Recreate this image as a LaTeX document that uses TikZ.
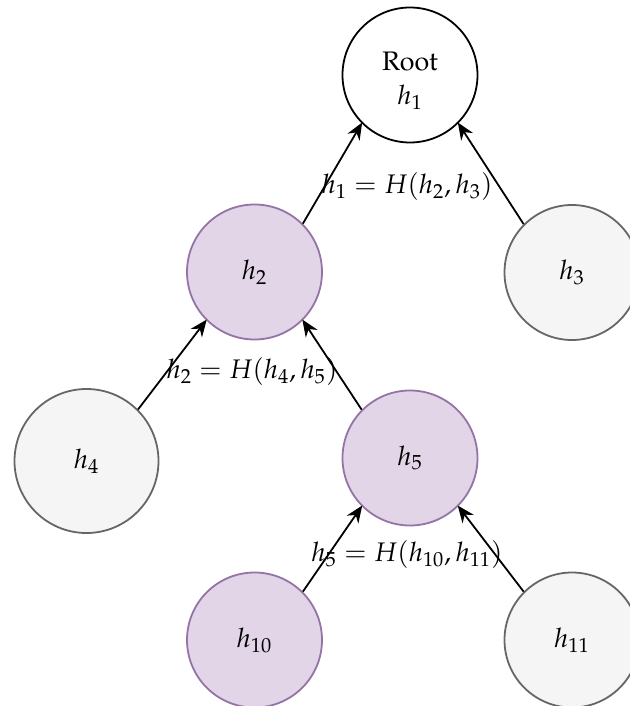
\documentclass[tikz,border=0pt]{standalone}
\usepackage[T1]{fontenc}
\usepackage{mathpazo}
\usepackage{tikz}
\usetikzlibrary{arrows.meta}
\definecolor{MTPurpleFill}{HTML}{E1D5E7}
\definecolor{MTPurpleLine}{HTML}{9673A6}
\definecolor{MTGreyFill}{HTML}{F5F5F5}
\definecolor{MTGreyLine}{HTML}{666666}

\begin{document}
\begin{tikzpicture}[x=0.5pt,y=-0.5pt,
    font=\fontsize{13.4}{17}\selectfont,
    rootnode/.style={circle,draw=black,line width=0.9pt,fill=white,
      minimum size=67.5pt,inner sep=0pt,align=center},
    pathnode/.style={circle,draw=MTPurpleLine,line width=0.9pt,fill=MTPurpleFill,
      minimum size=67.5pt,inner sep=0pt},
    sibnode/.style={circle,draw=MTGreyLine,line width=0.9pt,fill=MTGreyFill,
      minimum size=67.5pt,inner sep=0pt},
    hashlabel/.style={inner sep=0pt},
    arrow/.style={-{Stealth[length=8.5pt,width=7pt]},line width=0.9pt,shorten >=-0.5pt}
  ]
    \useasboundingbox (0,0) rectangle (630,706);

    \node[rootnode] (root) at (410,75) {\rule{0pt}{15pt}Root\\$h_1$};
    \node[pathnode] (h2) at (254.5,272) {$h_2$};
    \node[sibnode] (h3) at (572,272.5) {$h_3$};
    \node[sibnode,minimum size=72pt] (h4) at (86.5,461) {$h_4$};
    \node[pathnode] (h5) at (410,458) {$h_5$};
    \node[pathnode] (h10) at (254.5,640) {$h_{10}$};
    \node[sibnode] (h11) at (572,640) {$h_{11}$};

    \draw[arrow] (h2.45) -- (root.225);
    \draw[arrow] (h3.135) -- (root.315);
    \draw[arrow] (h4.45) -- (h2.225);
    \draw[arrow] (h5.135) -- (h2.315);
    \draw[arrow] (h10.45) -- (h5.225);
    \draw[arrow] (h11.135) -- (h5.315);

    \node[hashlabel] (lab1) at (407,187) {$h_1 = H(h_2, h_3)$};
    \node[hashlabel] (lab2) at (252,372) {$h_2 = H(h_4, h_5)$};
    \node[hashlabel] (lab5) at (407,555) {$h_5 = H(h_{10}, h_{11})$};
  \end{tikzpicture}
\end{document}
